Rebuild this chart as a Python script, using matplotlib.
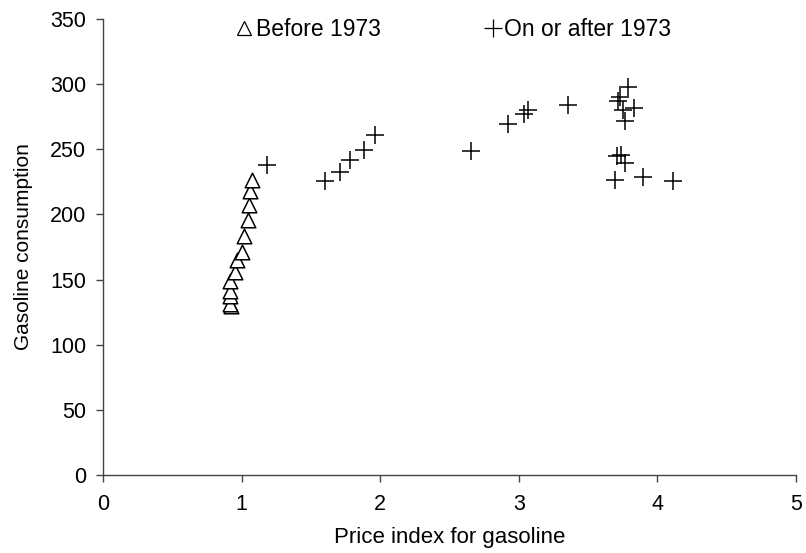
import matplotlib
matplotlib.use("Agg")
import matplotlib.pyplot as plt
from matplotlib.lines import Line2D

plt.rcParams["font.family"] = ["Liberation Sans", "DejaVu Sans"]

# Before 1973 (1960-1972)
price_before = [0.925, 0.914, 0.919, 0.918, 0.914, 0.949, 0.970, 1.000, 1.014,
                1.047, 1.056, 1.063, 1.076]
gas_before = [129.7, 131.3, 137.1, 141.6, 148.8, 155.9, 164.9, 171.0, 183.4,
              195.8, 207.4, 218.3, 226.8]

# On or after 1973 (1973-1995)
price_after = [1.181, 1.599, 1.708, 1.779, 1.882, 1.963, 2.656, 3.691, 4.109,
               3.894, 3.764, 3.707, 3.738, 2.921, 3.038, 3.065, 3.353, 3.834,
               3.766, 3.751, 3.713, 3.732, 3.789]
gas_after = [237.9, 225.8, 232.4, 241.7, 249.2, 261.3, 248.9, 226.8, 225.6,
             228.8, 239.6, 244.7, 245.8, 269.4, 276.8, 279.9, 284.1, 282.0,
             271.8, 280.2, 286.7, 290.2, 297.8]

fig = plt.figure(figsize=(8.06, 5.53), dpi=100)
ax = fig.add_axes([0.1278, 0.141, 0.8598, 0.8246])

ax.scatter(price_before, gas_before, marker="^", s=110, facecolors="white",
           edgecolors="black", linewidths=1.1, zorder=3)
ax.scatter(price_after, gas_after, marker="+", s=150, color="black",
           linewidths=1.1, zorder=3)

ax.set_xlim(0, 5)
ax.set_ylim(0, 350)
ax.set_xticks(range(0, 6))
ax.set_yticks(range(0, 351, 50))
for side in ("top", "right"):
    ax.spines[side].set_visible(False)
for side in ("left", "bottom"):
    ax.spines[side].set_color("#444444")
    ax.spines[side].set_linewidth(1.0)
ax.tick_params(direction="out", length=5, width=1.0, color="#444444",
               labelsize=15.5)
ax.tick_params(axis="y", pad=7)
ax.tick_params(axis="x", pad=9)

ax.set_xlabel("Price index for gasoline", fontsize=16, labelpad=8)
ax.set_ylabel("Gasoline consumption", fontsize=15, labelpad=12.5)

handles = [
    Line2D([], [], marker="^", ls="none", mfc="white", mec="black", ms=10, mew=0.9),
    Line2D([], [], marker="+", ls="none", color="black", ms=13, mew=0.9),
]
ax.legend(handles, ["Before 1973", "On or after 1973"], ncol=2, frameon=False,
          loc="upper center", bbox_to_anchor=(0.5036, 1.047), fontsize=16.5,
          handletextpad=0.0, columnspacing=4.38, handlelength=1.0)

fig.savefig("out.png", dpi=100)
